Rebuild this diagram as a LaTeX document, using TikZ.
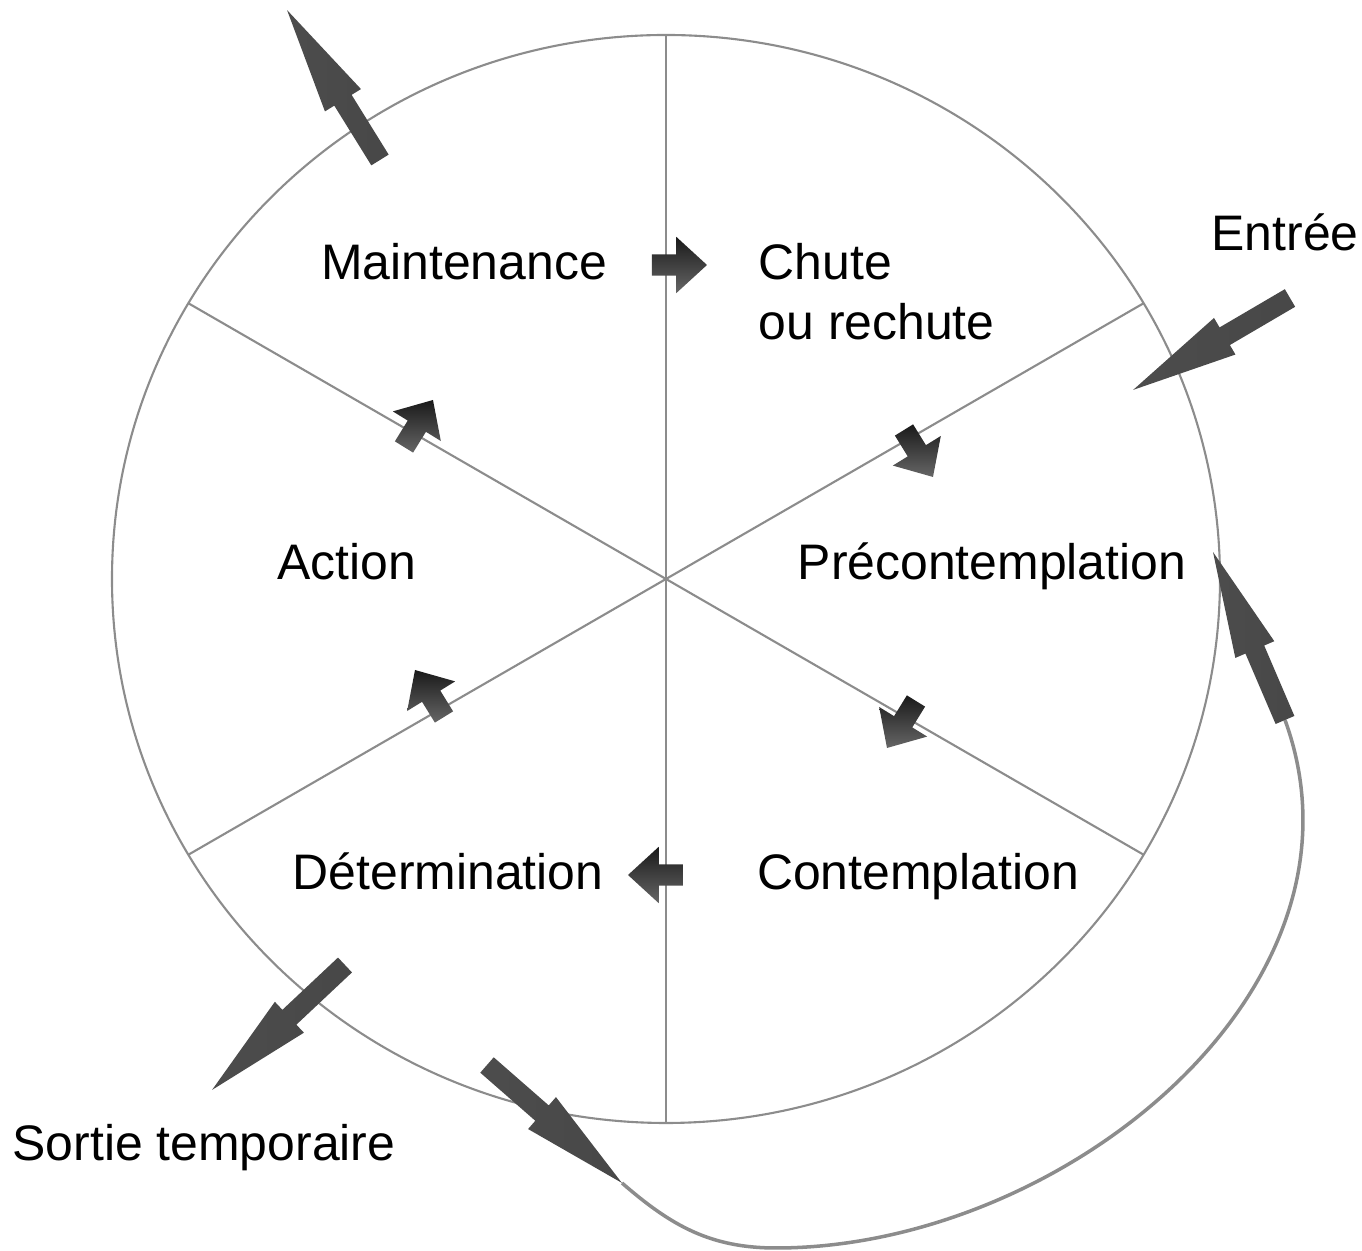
\documentclass[tikz,border=0pt]{standalone}
\usepackage{fontspec}
\setmainfont{Liberation Sans}
\usetikzlibrary{calc,shapes.arrows,shapes.geometric}

\tikzset{
  lbl/.style={font=\fontsize{14.2}{17.1}\selectfont, inner sep=0pt, anchor=base},
  spoke/.style={black!45, line width=0.6pt},
  bigarr/.style={single arrow, draw=none, inner xsep=0pt, inner ysep=0.095cm,
    outer sep=0pt, single arrow head extend=0.11cm,
    single arrow tip angle=22.6,
    left color=black!70, middle color=black!92, right color=black!72},
  smallarr/.style={single arrow, draw=none, inner xsep=0pt, inner ysep=0.10cm,
    outer sep=0pt, single arrow head extend=0.175cm,
    single arrow tip angle=85,
    top color=black!90, bottom color=black!60}
}

% arrow shape from #2 to #3, style #1
\newcommand\fatarrow[3]{%
  \path let \p1=($(#3)-(#2)$), \n1={veclen(\x1,\y1)} in
    (#2) -- (#3) node[pos=0, sloped, allow upside down, anchor=tail, #1, minimum height=\n1] {};}

\begin{document}
\begin{tikzpicture}
\useasboundingbox (-6.66,-6.72) rectangle (6.96,5.79);

% wheel
\node[draw, spoke, ellipse, inner sep=0pt, outer sep=0pt,
      minimum width=11.08cm, minimum height=10.88cm] (wheel) at (0,0) {};
\draw[spoke] (wheel.north) -- (wheel.south);
\draw[spoke] (wheel.center) -- (wheel.30);
\draw[spoke] (wheel.center) -- (wheel.150);
\draw[spoke] (wheel.center) -- (wheel.210);
\draw[spoke] (wheel.center) -- (wheel.330);

% stages
\node[lbl] (maint) at (-2.02, 2.99) {Maintenance};
\node[lbl, anchor=base west, align=left] (chute) at (0.92, 2.39) {Chute\\ou rechute};
\node[lbl] (precont) at (3.26,-0.01) {Précontemplation};
\node[lbl] (action) at (-3.19,-0.01) {Action};
\node[lbl] (cont) at (2.52,-3.11) {Contemplation};
\node[lbl] (determ) at (-2.18,-3.11) {Détermination};
\node[lbl] (entree) at (6.19, 3.28) {Entrée};
\node[lbl] (sortie) at (-4.62,-5.82) {Sortie temporaire};

% small arrows
\coordinate (s1a) at (-0.14, 3.14); \coordinate (s1b) at (0.41, 3.14);
\coordinate (s2a) at (2.38, 1.49);  \coordinate (s2b) at (2.67, 1.02);
\coordinate (s3a) at (2.50,-1.22);  \coordinate (s3b) at (2.21,-1.69);
\coordinate (s4a) at (0.17,-2.96);  \coordinate (s4b) at (-0.38,-2.96);
\coordinate (s5a) at (-2.22,-1.38); \coordinate (s5b) at (-2.51,-0.91);
\coordinate (s6a) at (-2.62, 1.32); \coordinate (s6b) at (-2.33, 1.79);
\fatarrow{smallarr}{s1a}{s1b}
\fatarrow{smallarr}{s2a}{s2b}
\fatarrow{smallarr}{s3a}{s3b}
\fatarrow{smallarr}{s4a}{s4b}
\fatarrow{smallarr}{s5a}{s5b}
\fatarrow{smallarr}{s6a}{s6b}

% big arrows
\coordinate (outa) at (-2.86, 4.19);  \coordinate (outb) at (-3.79, 5.69);
\coordinate (ina)  at (6.24, 2.81);   \coordinate (inb)  at (4.67, 1.89);
\coordinate (upa)  at (6.19,-1.41);   \coordinate (upb)  at (5.47, 0.27);
\coordinate (sora) at (-3.21,-3.86);  \coordinate (sorb) at (-4.54,-5.11);
\coordinate (reta) at (-1.79,-4.86);  \coordinate (retb) at (-0.44,-6.04);

% loop back
\coordinate (loopbot) at (1.10,-6.69);
\draw[spoke, line width=1pt] (retb) to[out=-41,in=180] (loopbot)
  to[out=0,in=-70] (upa);

\fatarrow{bigarr}{outa}{outb}
\fatarrow{bigarr}{ina}{inb}
\fatarrow{bigarr}{upa}{upb}
\fatarrow{bigarr}{sora}{sorb}
\fatarrow{bigarr}{reta}{retb}

\end{tikzpicture}
\end{document}
